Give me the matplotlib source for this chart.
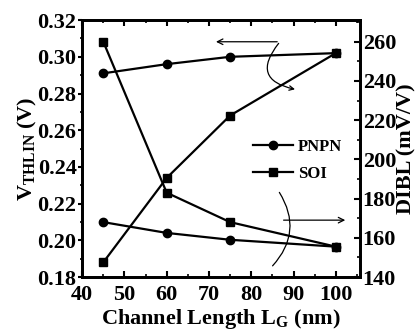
import matplotlib
matplotlib.use('Agg')
import matplotlib.pyplot as plt
from matplotlib.patches import FancyArrowPatch
from matplotlib.ticker import MultipleLocator

plt.rcParams['font.family'] = 'Liberation Serif'
plt.rcParams['font.weight'] = 'bold'
plt.rcParams['mathtext.fontset'] = 'custom'
plt.rcParams['mathtext.rm'] = 'Liberation Serif:bold'
plt.rcParams['mathtext.it'] = 'Liberation Serif:bold'
plt.rcParams['mathtext.bf'] = 'Liberation Serif:bold'

# channel length (nm)
lg = [45, 60, 75, 100]
# threshold voltage (V), left axis
vth_pnpn = [0.291, 0.296, 0.300, 0.302]
vth_soi = [0.188, 0.234, 0.268, 0.302]
# DIBL (mV/V), right axis
dibl_pnpn = [168, 162.5, 159, 155.5]
dibl_soi = [260, 183, 168, 155.5]

fig = plt.figure(figsize=(4.17, 3.35), dpi=100)
ax = fig.add_axes([0.197, 0.173, 0.666, 0.767])
ax2 = ax.twinx()

ax.plot(lg, vth_pnpn, 'k-o', lw=1.6, ms=6, label='PNPN')
ax.plot(lg, vth_soi, 'k-s', lw=1.6, ms=6, label='SOI')
ax2.plot(lg, dibl_pnpn, 'k-o', lw=1.6, ms=6)
ax2.plot(lg, dibl_soi, 'k-s', lw=1.6, ms=6)

ax.set_xlim(40, 105.7)
ax.set_ylim(0.18, 0.32)
ax2.set_ylim(140, 271)
ax.set_xticks([40, 50, 60, 70, 80, 90, 100])
ax.set_yticks([0.18, 0.20, 0.22, 0.24, 0.26, 0.28, 0.30, 0.32])
ax.set_yticklabels(['%.2f' % v for v in ax.get_yticks()])
ax2.set_yticks([140, 160, 180, 200, 220, 240, 260])
ax.xaxis.set_minor_locator(MultipleLocator(5))
ax.yaxis.set_minor_locator(MultipleLocator(0.01))
ax2.yaxis.set_minor_locator(MultipleLocator(10))

for a in (ax, ax2):
    for s in a.spines.values():
        s.set_linewidth(2)
ax.tick_params(axis='x', which='both', direction='in', top=True, labelsize=16, pad=6)
ax.tick_params(axis='x', which='major', length=4, width=1.5)
ax.tick_params(axis='x', which='minor', length=2, width=1.2)
ax.tick_params(axis='y', which='major', direction='out', length=3, width=1.5, labelsize=16, pad=1)
ax.tick_params(axis='y', which='minor', direction='out', length=1.5, width=1.2)
ax2.tick_params(axis='y', which='major', direction='in', length=4, width=1.5, labelsize=16, pad=2)
ax2.tick_params(axis='y', which='minor', direction='in', length=2, width=1.2)

ax.set_xlabel('Channel Length L$_{\\mathrm{G}}$ (nm)', fontsize=16, fontweight='bold', labelpad=1)
ax.set_ylabel('V$_{\\mathrm{THLIN}}$ (V)', fontsize=16, fontweight='bold', labelpad=-1)
ax2.set_ylabel('DIBL (mV/V)', fontsize=16, fontweight='bold', labelpad=0)

leg = ax.legend(loc='upper left', bbox_to_anchor=(0.59, 0.565), frameon=False,
                fontsize=12, handlelength=2.4, handletextpad=0.3, labelspacing=0.7,
                borderaxespad=0)

# annotation arrows (left axis data coords)
ax.annotate('', xy=(71, 0.3082), xytext=(86.8, 0.3082),
            arrowprops=dict(arrowstyle='->', lw=0.9, color='k'))
ax.add_patch(FancyArrowPatch((86.9, 0.3085), (91.0, 0.2820),
                             connectionstyle='arc3,rad=0.85', arrowstyle='->',
                             mutation_scale=8, lw=0.9, color='k'))
ax.annotate('', xy=(102.9, 0.2110), xytext=(87.0, 0.2110),
            arrowprops=dict(arrowstyle='->', lw=0.9, color='k'))
ax.add_patch(FancyArrowPatch((86.3, 0.2274), (84.6, 0.1850),
                             connectionstyle='arc3,rad=-0.4', arrowstyle='-',
                             lw=0.9, color='k'))

fig.savefig('out.png', dpi=100)
